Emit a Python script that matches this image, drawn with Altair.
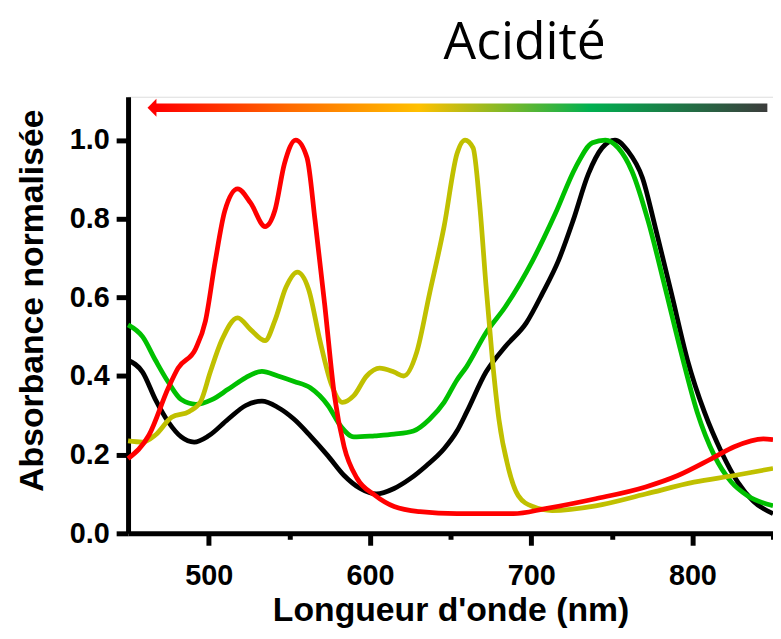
import altair as alt
import pandas as pd

# ---- data ----
black_x = [450, 459, 467, 475, 483, 491, 500, 512, 523, 533, 543, 553, 563, 574, 584, 594, 604, 615, 625, 635, 646, 654,
           660, 672, 684, 697, 707, 717, 726, 735.5, 744, 752, 760, 769, 777, 787, 797, 807.5, 818, 828, 838, 850]
black_y = [0.44, 0.41, 0.34, 0.283, 0.245, 0.232, 0.248, 0.29, 0.325, 0.336, 0.32, 0.29, 0.248, 0.197, 0.147, 0.114, 0.10,
           0.114, 0.139, 0.172, 0.215, 0.26, 0.308, 0.41, 0.475, 0.535, 0.61, 0.694, 0.795, 0.914, 0.98, 1.0, 0.972, 0.904,
           0.778, 0.61, 0.44, 0.308, 0.207, 0.131, 0.081, 0.05]

green_x = [450, 459, 467, 475, 483, 492, 502, 512, 523, 533, 543, 553, 563, 574, 582, 590, 603, 615, 627, 637, 646, 654,
           660, 672, 684, 701, 715, 727.5, 738, 746, 754, 762.6, 772.5, 783, 793, 803, 813.7, 824, 834, 850]
green_y = [0.53, 0.50, 0.44, 0.384, 0.34, 0.328, 0.34, 0.366, 0.396, 0.412, 0.40, 0.386, 0.37, 0.325, 0.272, 0.245, 0.248,
           0.252, 0.26, 0.29, 0.333, 0.39, 0.424, 0.51, 0.576, 0.694, 0.813, 0.93, 0.993, 1.0, 0.98, 0.92, 0.795, 0.626,
           0.46, 0.308, 0.197, 0.131, 0.096, 0.07]

yellow_x = [450, 459, 467, 477, 488, 495, 501, 508, 518, 526, 535, 541, 548, 555, 562, 569, 576, 583, 590, 598, 606, 615,
            621, 629, 637, 646, 654, 659, 664, 668, 672, 676, 680, 686, 692, 701, 713, 740, 771, 801, 826, 850]
yellow_y = [0.235, 0.232, 0.25, 0.295, 0.31, 0.335, 0.41, 0.49, 0.548, 0.518, 0.49, 0.54, 0.626, 0.664, 0.62, 0.49, 0.38,
            0.333, 0.35, 0.40, 0.42, 0.41, 0.40, 0.46, 0.61, 0.78, 0.965, 1.0, 0.98, 0.84, 0.63, 0.44, 0.29, 0.164, 0.096,
            0.068, 0.058, 0.07, 0.10, 0.13, 0.147, 0.165]

red_x = [450, 463, 475, 481, 492, 498, 504, 510, 518, 526, 535, 541, 547, 554, 561, 566, 572, 578, 584, 592, 603, 615,
         631, 654, 689, 709, 740, 771, 791, 812, 826, 844, 850]
red_y = [0.19, 0.25, 0.37, 0.42, 0.47, 0.54, 0.69, 0.82, 0.876, 0.84, 0.78, 0.82, 0.94, 1.0, 0.955, 0.795, 0.58, 0.35,
         0.22, 0.14, 0.097, 0.068, 0.055, 0.05, 0.05, 0.063, 0.088, 0.118, 0.147, 0.19, 0.22, 0.24, 0.238]

series_names = ["noir", "vert", "jaune", "rouge"]
series_colors = ["#000000", "#00c000", "#c0c000", "#ff0000"]

x_ticks = [500, 550, 600, 650, 700, 750, 800, 850]
y_ticks = [0.0, 0.2, 0.4, 0.6, 0.8, 1.0]

title_text = "Acidité"
title_pos = [696.0, 1.205]

arrow_x = [467.2, 846.5]
arrow_y = [1.071, 1.093]
arrow_head = [467.6, 1.082]
grad_stops = [(0.0, "#ff0000"), (0.22, "#ff6a00"), (0.43, "#ffc000"), (0.71, "#00b050"), (1.0, "#3c3c3c")]

# ---- build table ----
rows = []
for name, xs, ys in zip(series_names, [black_x, green_x, yellow_x, red_x], [black_y, green_y, yellow_y, red_y]):
    for i, (a, b) in enumerate(zip(xs, ys)):
        rows.append({"serie": name, "wl": a, "abs": b, "i": i})
df = pd.DataFrame(rows)

FONT = "Liberation Sans"

x_scale = alt.Scale(domain=[450, 850], nice=False, zero=False)
y_scale = alt.Scale(domain=[0, 1.11], nice=False, zero=False)

x_axis = alt.Axis(
    values=x_ticks,
    labelExpr="datum.value % 100 === 0 ? datum.label : ''",
    title="Longueur d'onde (nm)",
    titleFont=FONT, titleFontSize=34, titleFontWeight="bold", titleColor="black",
    titleY=88, titleBaseline="alphabetic",
    labelFont=FONT, labelFontSize=29, labelFontWeight="bold", labelColor="black", labelPadding=17,
    tickSize={"condition": {"test": "datum.value % 100 === 0", "value": 12}, "value": 6},
    tickWidth=5, tickColor="black", domainWidth=5, domainColor="black", grid=False,
    labelFlush=False, labelOverlap=False,
)
y_axis = alt.Axis(
    values=y_ticks, format=".1f",
    title="Absorbance normalisée",
    titleFont=FONT, titleFontSize=34, titleFontWeight="bold", titleColor="black",
    titleX=-96, titleY=205, titleBaseline="middle", titleAlign="center", titleAngle=270,
    labelFont=FONT, labelFontSize=29, labelFontWeight="bold", labelColor="black", labelPadding=7,
    tickSize=12, tickWidth=5, tickColor="black", domainWidth=5, domainColor="black", grid=False,
    labelFlush=False, labelOverlap=False,
)

lines = alt.Chart(df).mark_line(strokeWidth=4.8, interpolate="monotone").encode(
    x=alt.X("wl:Q", scale=x_scale, axis=x_axis),
    y=alt.Y("abs:Q", scale=y_scale, axis=y_axis),
    color=alt.Color("serie:N", scale=alt.Scale(domain=series_names, range=series_colors), legend=None),
    detail="serie:N",
    order="i:Q",
)

gradient = alt.Gradient(
    gradient="linear",
    stops=[alt.GradientStop(color=c, offset=o) for o, c in grad_stops],
    x1=0, x2=1, y1=0, y2=0,
)

arrow_bar = alt.Chart(pd.DataFrame({"x": [arrow_x[0]], "x2": [arrow_x[1]], "y": [arrow_y[0]], "y2": [arrow_y[1]]})).mark_rect(
    fill=gradient, strokeWidth=0
).encode(x=alt.X("x:Q", scale=x_scale), x2="x2:Q", y=alt.Y("y:Q", scale=y_scale), y2="y2:Q")

arrow_tip = alt.Chart(pd.DataFrame({"x": [arrow_head[0]], "y": [arrow_head[1]]})).mark_point(
    shape="M-1,0 L0,-1 L0,1 Z", filled=True, fill="#ff0000", strokeWidth=0, size=324, opacity=1
).encode(x=alt.X("x:Q", scale=x_scale), y=alt.Y("y:Q", scale=y_scale))

title_mark = alt.Chart(pd.DataFrame({"x": [title_pos[0]], "y": [title_pos[1]], "t": [title_text]})).mark_text(
    font="Open Sans", fontSize=52, fontWeight="normal", color="black", align="center", baseline="alphabetic"
).encode(x=alt.X("x:Q", scale=x_scale), y=alt.Y("y:Q", scale=y_scale), text="t:N")

chart = alt.layer(lines, arrow_bar, arrow_tip, title_mark).properties(
    width=650, height=440,
    autosize="none",
    padding={"left": 121, "top": 87, "right": 0, "bottom": 96},
).configure_view(stroke=None).configure(background="white")

chart.save("out.html", embed_options={"renderer": "svg", "actions": False})
